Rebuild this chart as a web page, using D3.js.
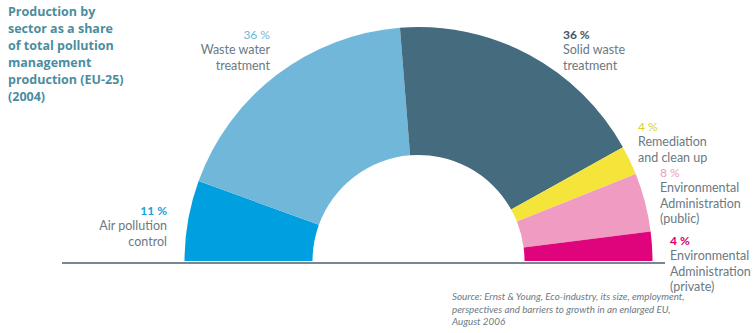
<!DOCTYPE html>
<html>
<head>
<meta charset="utf-8">
<script src="https://cdn.jsdelivr.net/npm/d3@7"></script>
<style>
  body { margin: 0; background: #fff; }
  svg { display: block; font-family: Lato, "Open Sans", sans-serif; }
</style>
</head>
<body>
<svg id="chart"></svg>
<script>
let w = 755;
let h = 333;

// data
const sectors = ['Air pollution control', 'Waste water treatment', 'Solid waste treatment',
  'Remediation and clean up', 'Environmental Administration (public)', 'Environmental Administration (private)'];
const shares = [11, 36, 36, 4, 8, 4];
const labelLines = [
  ['Air pollution', 'control'],
  ['Waste water', 'treatment'],
  ['Solid waste', 'treatment'],
  ['Remediation', 'and clean up'],
  ['Environmental', 'Administration', '(public)'],
  ['Environmental', 'Administration', '(private)']
];
const titleLines = ['Production by', 'sector as a share', 'of total pollution', 'management',
  'production (EU-25)', '(2004)'];
const sourceLines = ['Source: Ernst & Young, Eco-industry, its size, employment,',
  'perspectives and barriers to growth in an enlarged EU,', 'August 2006'];

//colors for each of the slices
const colors = ['#009fe0', '#70b7d9', '#456b7e', '#f5e43a', '#f09bc1', '#e0047c'];
const pctColors = ['#1a9fd8', '#70b7d9', '#3e5565', '#d8d22a', '#f09bc1', '#d6006f'];
const pctBold = [true, false, true, false, false, true];

// label anchors: [x, y of percent line, text-anchor]
const labelPos = [
  [167, 215, 'end'],
  [270, 39, 'end'],
  [563, 39, 'start'],
  [638, 131, 'start'],
  [660, 177, 'start'],
  [670, 245, 'start']
];

const cx = 418.5, cy = 261;
const outerRadius = 234;
const innerRadius = 106;

let svg = d3.select('#chart').attr('width', w).attr('height', h);

// title
svg.append('text')
  .attr('x', 8).attr('y', 16)
  .style('font-family', '"Open Sans", sans-serif')
  .style('font-size', '12.5px').style('font-weight', 700)
  .attr('fill', '#4b8d9f')
  .selectAll('tspan')
  .data(titleLines)
  .enter().append('tspan')
    .attr('x', 8)
    .attr('dy', (d, i) => i === 0 ? 0 : 17)
    .text(d => d);

let chart = svg.append('g')
  .attr('transform', `translate(${cx},${cy})`);

let pie = d3.pie()
  .sort(null)
  .value(d => d)
  .startAngle(-Math.PI / 2)
  .endAngle(Math.PI / 2);

let arcGenerator = d3.arc()
  .outerRadius(outerRadius)
  .innerRadius(innerRadius);

chart.selectAll('path.slice')
  .data(pie(shares))
  .enter()
  .append('path')
    .attr('class', 'slice')
    .attr('fill', (d, i) => colors[i])
    .attr('d', arcGenerator);

// baseline
svg.append('line')
  .attr('x1', 62).attr('x2', 665)
  .attr('y1', 263).attr('y2', 263)
  .attr('stroke', '#4f5f69')
  .attr('stroke-width', 1.5);

// slice labels
let labels = svg.selectAll('g.label')
  .data(sectors)
  .enter()
  .append('g')
    .attr('class', 'label');

labels.append('text')
  .attr('x', (d, i) => labelPos[i][0])
  .attr('y', (d, i) => labelPos[i][1])
  .attr('text-anchor', (d, i) => labelPos[i][2])
  .attr('fill', (d, i) => pctColors[i])
  .style('font-size', '12px')
  .style('font-weight', (d, i) => pctBold[i] ? 700 : 400)
  .text((d, i) => shares[i] + ' %');

labels.each(function(d, i) {
  d3.select(this).append('text')
    .attr('text-anchor', labelPos[i][2])
    .attr('fill', '#6a7983')
    .style('font-size', '12.5px')
    .selectAll('tspan')
    .data(labelLines[i])
    .enter().append('tspan')
      .attr('x', labelPos[i][0])
      .attr('y', (t, j) => labelPos[i][1] + 15.3 * (j + 1))
      .text(t => t);
});

// source note
svg.append('text')
  .attr('fill', '#6b7a84')
  .style('font-size', '9.8px')
  .style('font-style', 'italic')
  .selectAll('tspan')
  .data(sourceLines)
  .enter().append('tspan')
    .attr('x', 452)
    .attr('y', (d, i) => 300 + 12.5 * i)
    .text(d => d);
</script>
</body>
</html>
